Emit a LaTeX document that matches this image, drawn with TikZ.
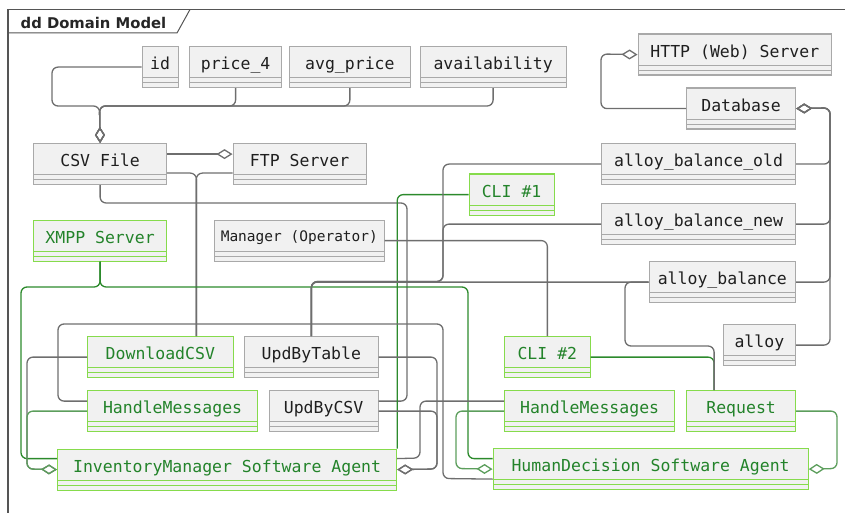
\documentclass[tikz,border=0pt]{standalone}
\usepackage{fontspec}
\setmainfont{DejaVu Sans}
\setmonofont{DejaVu Sans Mono}
\usetikzlibrary{arrows.meta}

\definecolor{boxfill}{HTML}{F1F1F1}
\definecolor{boxgray}{HTML}{A9A9A9}
\definecolor{boxgreen}{HTML}{86DB4C}
\definecolor{textgreen}{HTML}{23832A}
\definecolor{linegray}{HTML}{6E6E6E}
\definecolor{linegreen}{HTML}{2C8A2C}
\definecolor{linelight}{HTML}{5C9E5C}
\definecolor{framegray}{HTML}{555555}

\tikzset{
  Agg/.tip={Diamond[open, length=16pt, width=10pt]},
  umlclass/.style={fill=boxfill, line width=1.2pt,
    inner xsep=4pt, inner ysep=0pt,
    text height=23pt, text depth=18pt, anchor=north west,
    font=\fontsize{16.5}{18}\selectfont\ttfamily},
  compartments/.style={path picture={
      \draw[#1, line width=1pt]
        ([yshift=10pt]path picture bounding box.south west) --
        ([yshift=10pt]path picture bounding box.south east)
        ([yshift=5pt]path picture bounding box.south west) --
        ([yshift=5pt]path picture bounding box.south east);}},
  grayclass/.style={umlclass, draw=boxgray, text=black!88, compartments=boxgray},
  greenclass/.style={umlclass, draw=boxgreen, text=textgreen, compartments=boxgreen},
  assoc/.style={draw=linegray, line width=1.3pt, rounded corners=6pt},
  greenlink/.style={assoc, draw=linegreen},
  lightlink/.style={assoc, draw=linelight},
  agg/.style={-Agg},
  aggback/.style={Agg-}
}

\begin{document}
\begin{tikzpicture}[x=1pt, y=-1pt]

    \useasboundingbox (0,0) rectangle (845,513);

    % diagram frame with its name tab
    \draw[framegray, line width=1.2pt] (8,513) -- (8,9.5) -- (845,9.5);
    \draw[framegray, line width=1pt] (8,33) -- (177,33) -- (190,9.5);
    \node[anchor=base west, inner sep=0pt, text=black!85,
          font=\bfseries\fontsize{14.8}{16}\selectfont] (Title) at (20.5,28.3) {dd Domain Model};

    % columns of the csv file
    \node[grayclass, minimum width=36pt] (Id) at (141.5,46) {id};
    \node[grayclass, minimum width=92pt] (Price_4) at (189,46) {price\_4};
    \node[grayclass, minimum width=121.5pt] (Avg_price) at (288.5,46) {avg\_price};
    \node[grayclass, minimum width=146pt] (Availability) at (419.5,46) {availability};

    % servers, files and the operator
    \node[grayclass, minimum width=193.5pt] (HTTP_Server) at (637.5,33.5) {HTTP (Web) Server};
    \node[grayclass, minimum width=109pt] (Database) at (686,87.5) {Database};
    \node[grayclass, minimum width=133pt] (CSV_File) at (33,143) {CSV File};
    \node[grayclass, minimum width=133pt] (FTP_Server) at (232.5,143) {FTP Server};
    \node[greenclass, minimum width=133pt] (XMPP_Server) at (33,219.5) {XMPP Server};
    \node[grayclass, minimum width=169.5pt,
          text height=21.7pt, text depth=19.3pt,
          font=\fontsize{14.5}{16}\selectfont\ttfamily] (Manager) at (214,219.5) {Manager (Operator)};

    % database tables
    \node[grayclass, minimum width=194pt] (Alloy_balance_old) at (601,143) {alloy\_balance\_old};
    \node[grayclass, minimum width=194pt] (Alloy_balance_new) at (601,203) {alloy\_balance\_new};
    \node[grayclass, minimum width=146.5pt] (Alloy_balance) at (648.5,261) {alloy\_balance};
    \node[grayclass, minimum width=72.5pt] (Alloy) at (722.5,324) {alloy};

    % command line interfaces
    \node[greenclass, minimum width=85pt] (CLI_1) at (468.5,173.5) {CLI \#1};
    \node[greenclass, minimum width=85.5pt] (CLI_2) at (504,336) {CLI \#2};

    % behaviours
    \node[greenclass, minimum width=145.5pt] (DownloadCSV) at (87,336) {DownloadCSV};
    \node[grayclass, minimum width=133.5pt] (UpdByTable) at (244,336) {UpdByTable};
    \node[greenclass, minimum width=170pt] (HandleMessages_IM) at (87,390) {HandleMessages};
    \node[grayclass, minimum width=109pt] (UpdByCSV) at (268.5,390) {UpdByCSV};
    \node[greenclass, minimum width=170pt] (HandleMessages_HD) at (504,390) {HandleMessages};
    \node[greenclass, minimum width=109pt] (Request) at (686,390) {Request};

    % the two agents
    \node[greenclass, minimum width=339pt] (Inventory_agent) at (57,448.5) {InventoryManager Software Agent};
    \node[greenclass, minimum width=315pt] (Decision_agent) at (492.5,448) {HumanDecision Software Agent};

    % columns -> csv file
    \coordinate (CSV_join) at (99.5,106);
    \draw[assoc, agg] (Id.west) -| (52,106) -- (CSV_join) -- (CSV_File.north);
    \draw[assoc, agg] (Price_4.south) |- (CSV_join) -- (CSV_File.north);
    \draw[assoc, agg] (Avg_price.south) |- (CSV_join) -- (CSV_File.north);
    \draw[assoc, agg] (Availability.south) |- (CSV_join) -- (CSV_File.north);

    % csv file, ftp server and the download
    \draw[assoc, agg] ([yshift=10pt]CSV_File.east) -- ([yshift=10pt]FTP_Server.west);
    \draw[assoc] ([yshift=-9pt]CSV_File.east) -| ([xshift=36pt]DownloadCSV.north);
    \draw[assoc] ([yshift=-9pt]FTP_Server.west) -| ([xshift=36pt]DownloadCSV.north);
    \draw[assoc] (CSV_File.south) |- (407,203) |- ([yshift=10pt]UpdByCSV.east);

    % xmpp server to both agents
    \draw[greenlink] (XMPP_Server.south) |- (21,287) |- ([yshift=11pt]Inventory_agent.west);
    \draw[greenlink] (XMPP_Server.south) |- (468,287) |- ([yshift=10.5pt]Decision_agent.west);

    % command line interfaces
    \draw[greenlink] (CLI_1.west) -| (Inventory_agent.north east);
    \draw[assoc] (Manager.east) -| (CLI_2.north);
    \draw[greenlink] (CLI_2.east) -| ([xshift=-27pt]Request.north);

    % tables used by UpdByTable and Request
    \coordinate (Table_join) at (443,281.5);
    \draw[assoc] (Alloy_balance_old.west) -| (Table_join) -| (UpdByTable.north);
    \draw[assoc] (Alloy_balance_new.west) -| (Table_join) -| (UpdByTable.north);
    \draw[assoc] (Alloy_balance.west) -| (UpdByTable.north);
    \draw[assoc] (Alloy_balance.west) -| (625,346) -| ([xshift=-27pt]Request.north);

    % database holds the tables, web server holds the database
    \draw[assoc, aggback] (Database.east) -- (830,108) |- (Alloy_balance_old.east);
    \draw[assoc, aggback] (Database.east) -- (830,108) |- (Alloy_balance_new.east);
    \draw[assoc, aggback] (Database.east) -- (830,108) |- (Alloy_balance.east);
    \draw[assoc, aggback] (Database.east) -- (830,108) |- (Alloy.east);
    \draw[assoc, agg] (Database.west) -| (601,54) -- (HTTP_Server.west);

    % behaviours of the inventory agent
    \draw[assoc, agg] (DownloadCSV.west) -| (27,469) -- (Inventory_agent.west);
    \draw[lightlink, agg] (HandleMessages_IM.west) -| (27,469) -- (Inventory_agent.west);
    \draw[assoc, agg] (UpdByTable.east) -| (437,469) -- (Inventory_agent.east);
    \draw[assoc, agg] (UpdByCSV.east) -| (437,469) -- (Inventory_agent.east);
    \draw[assoc] ([yshift=10pt]HandleMessages_HD.west) -| (420,458) -- ([yshift=11pt]Inventory_agent.east);

    % behaviours of the decision agent
    \draw[lightlink, agg] (HandleMessages_HD.west) -| (456,468.5) -- (Decision_agent.west);
    \draw[lightlink, agg] (Request.east) -| (837,468.5) -- (Decision_agent.east);
    \draw[assoc] ([yshift=10pt]HandleMessages_IM.west) -| (58,324) -| (443,478.5) -- ([yshift=-10pt]Decision_agent.west);

\end{tikzpicture}
\end{document}
